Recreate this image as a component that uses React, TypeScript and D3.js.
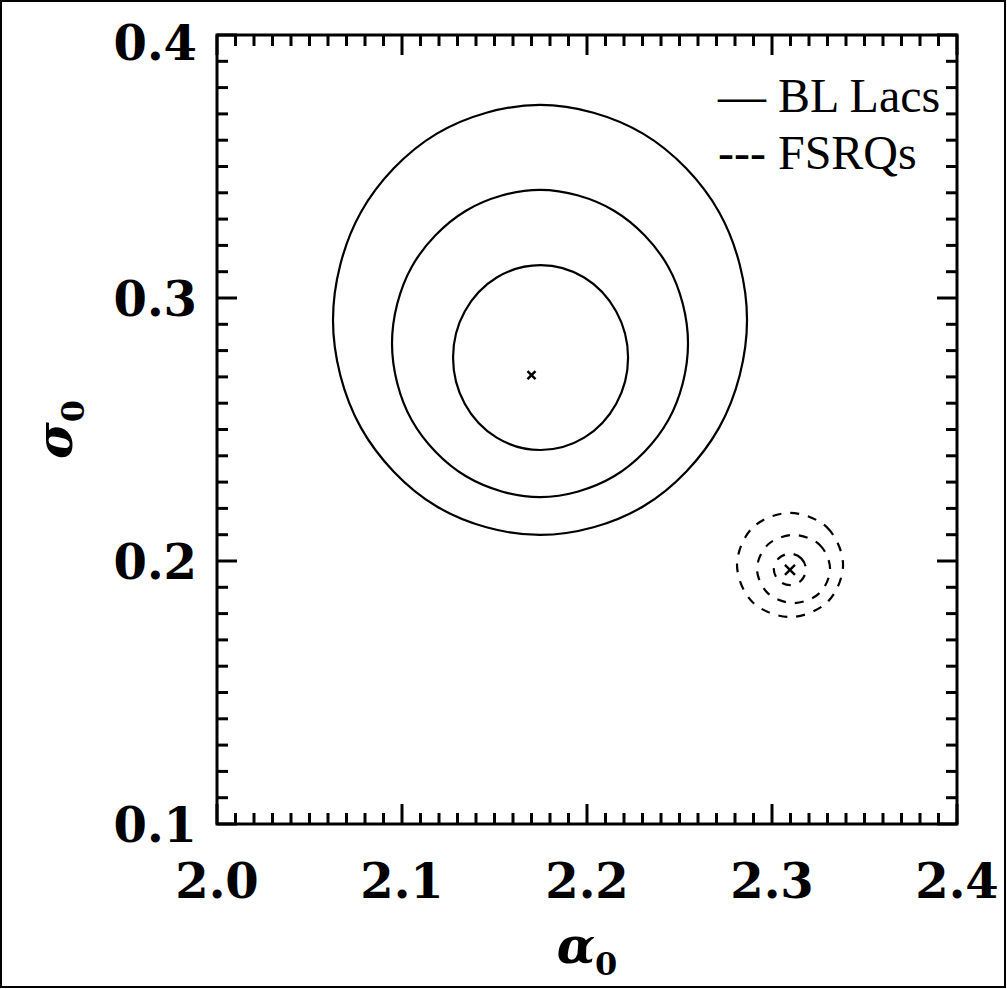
import React from 'react';
import * as d3 from 'd3';

const W = 1007;
const H = 989;

const xTickValues = [2.0, 2.1, 2.2, 2.3, 2.4];
const xTickLabels = ['2.0', '2.1', '2.2', '2.3', '2.4'];
const yTickValues = [0.1, 0.2, 0.3, 0.4];
const yTickLabels = ['0.1', '0.2', '0.3', '0.4'];

// contours as [alpha0, sigma0] points
const blInner = [
  [2.1749, 0.3125], [2.1985, 0.3078], [2.2158, 0.2949], [2.2222, 0.2774],
  [2.2158, 0.2598], [2.1985, 0.2469], [2.1749, 0.2422], [2.1512, 0.2469],
  [2.1339, 0.2598], [2.1276, 0.2774], [2.1339, 0.2949], [2.1512, 0.3078],
];
const blMiddle = [
  [2.1746, 0.3411], [2.2146, 0.3332], [2.2439, 0.3119], [2.2546, 0.2827],
  [2.2439, 0.2535], [2.2146, 0.2322], [2.1746, 0.2243], [2.1346, 0.2322],
  [2.1053, 0.2535], [2.0946, 0.2827], [2.1053, 0.3119], [2.1346, 0.3332],
];
const blOuter = [
  [2.1746, 0.3734], [2.2305, 0.3624], [2.2715, 0.3325], [2.2865, 0.2916],
  [2.2715, 0.2508], [2.2305, 0.2208], [2.1746, 0.2099], [2.1186, 0.2208],
  [2.0777, 0.2508], [2.0627, 0.2916], [2.0777, 0.3325], [2.1186, 0.3624],
];
const fsrqInner = [
  [2.3097, 0.2028], [2.3158, 0.201], [2.3184, 0.1968], [2.3158, 0.1926],
  [2.3097, 0.1908], [2.3036, 0.1926], [2.301, 0.1968], [2.3036, 0.201],
];
const fsrqMiddle = [
  [2.3117, 0.2099], [2.3257, 0.2062], [2.3314, 0.197], [2.3257, 0.1878],
  [2.3117, 0.184], [2.2977, 0.1878], [2.2919, 0.197], [2.2977, 0.2062],
];
const fsrqOuter = [
  [2.3097, 0.2183], [2.33, 0.2126], [2.3384, 0.1985], [2.33, 0.1844],
  [2.3097, 0.1787], [2.2894, 0.1844], [2.2811, 0.1985], [2.2894, 0.2126],
];
const blBest = [2.17, 0.2707];
const fsrqBest = [2.3097, 0.1966];

const legendLabels = ['\u2014 BL Lacs', '--- FSRQs'];

export default function App() {
  const left = 217, right = 957, top = 35, bottom = 824;
  const x = d3.scaleLinear().domain([2.0, 2.4]).range([left, right]);
  const y = d3.scaleLinear().domain([0.1, 0.4]).range([bottom, top]);

  const contour = d3
    .line()
    .x((d) => x(d[0]))
    .y((d) => y(d[1]))
    .curve(d3.curveCatmullRomClosed);

  const xMinor = x.ticks(40);
  const yMinor = y.ticks(30);
  const isMajor = (v) => Math.abs(v * 10 - Math.round(v * 10)) < 1e-6;

  const cross = (p, s, key) => {
    const cx = x(p[0]), cy = y(p[1]);
    return (
      <g key={key} stroke="#000" strokeWidth={2.5}>
        <line x1={cx - s} y1={cy - s} x2={cx + s} y2={cy + s} />
        <line x1={cx - s} y1={cy + s} x2={cx + s} y2={cy - s} />
      </g>
    );
  };

  return (
    <div style={{ position: 'absolute', left: 0, top: 0 }}>
      <svg width={W} height={H} style={{ display: 'block', background: '#fff' }}>
        <rect x={1} y={1} width={W - 3} height={H - 3} fill="none" stroke="#000" strokeWidth={2} />

        {/* ticks on all four sides */}
        <g stroke="#000" strokeWidth={3}>
          {xMinor.map((v, i) => {
            const len = isMajor(v) ? 20 : 11;
            return (
              <g key={'xt' + i}>
                <line x1={x(v)} x2={x(v)} y1={bottom} y2={bottom - len} />
                <line x1={x(v)} x2={x(v)} y1={top} y2={top + len} />
              </g>
            );
          })}
          {yMinor.map((v, i) => {
            const len = isMajor(v) ? 20 : 11;
            return (
              <g key={'yt' + i}>
                <line x1={left} x2={left + len} y1={y(v)} y2={y(v)} />
                <line x1={right} x2={right - len} y1={y(v)} y2={y(v)} />
              </g>
            );
          })}
        </g>
        <rect x={left} y={top} width={right - left} height={bottom - top} fill="none" stroke="#000" strokeWidth={3} />

        {/* tick labels */}
        <g fontFamily="'DejaVu Serif', serif" fontWeight="bold" fontSize={48} fill="#000">
          {xTickValues.map((v, i) => (
            <text key={'xl' + i} x={x(v)} y={898} textAnchor="middle">{xTickLabels[i]}</text>
          ))}
          {yTickValues.map((v, i) => (
            <text key={'yl' + i} x={197} y={Math.max(y(v) + 18, 60)} textAnchor="end">{yTickLabels[i]}</text>
          ))}
        </g>

        {/* axis titles */}
        <text x={(left + right) / 2} y={963} textAnchor="middle" fontFamily="'DejaVu Serif', serif" fontWeight="bold" fontStyle="italic" fontSize={50}>
          α<tspan fontSize={32} dy={12} fontStyle="normal">0</tspan>
        </text>
        <text transform={`translate(72,${(top + bottom) / 2}) rotate(-90)`} textAnchor="middle" fontFamily="'DejaVu Serif', serif" fontWeight="bold" fontStyle="italic" fontSize={50}>
          σ<tspan fontSize={32} dy={12} fontStyle="normal">0</tspan>
        </text>

        {/* BL Lacs contours */}
        <g fill="none" stroke="#000" strokeWidth={2.2}>
          {[blInner, blMiddle, blOuter].map((c, i) => (
            <path key={'bl' + i} d={contour(c)} />
          ))}
        </g>
        {/* FSRQ contours */}
        <g fill="none" stroke="#000" strokeWidth={2.2} strokeDasharray="9,9">
          {[fsrqInner, fsrqMiddle, fsrqOuter].map((c, i) => (
            <path key={'fs' + i} d={contour(c)} />
          ))}
        </g>
        {cross(blBest, 4, 'b1')}
        {cross(fsrqBest, 5, 'b2')}

        {/* legend */}
        <g fontFamily="'Liberation Serif', 'Times New Roman', serif" fontSize={48} fill="#000">
          {legendLabels.map((t, i) => (
            <text key={'lg' + i} x={718} y={112 + i * 57}>{t}</text>
          ))}
        </g>
      </svg>
    </div>
  );
}
